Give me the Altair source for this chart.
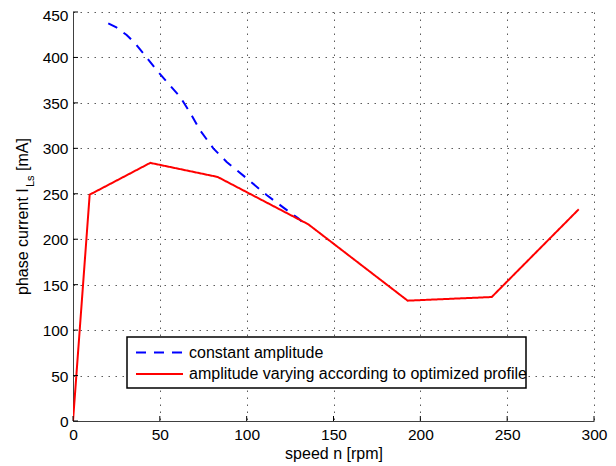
import altair as alt
import pandas as pd

# --- data ---
const_x = [20.3, 25.0, 30.9, 36.0, 40.5, 48.2, 55.0, 61.6, 67.5, 73.1, 80.8, 88.5, 100.0, 111.5, 121.0, 129.7, 132.0]
const_y = [437.5, 433.0, 424.7, 415.0, 404.5, 386.0, 371.0, 356.8, 339.0, 320.0, 300.0, 285.0, 267.0, 248.6, 235.0, 223.0, 219.0]

opt_x = [0.0, 9.6, 44.5, 83.3, 135.5, 192.7, 241.1, 291.2]
opt_y = [0.0, 249.0, 284.0, 268.5, 216.4, 132.4, 136.4, 232.9]

x_ticks = [0, 50, 100, 150, 200, 250, 300]
y_ticks = [0, 50, 100, 150, 200, 250, 300, 350, 400, 450]

series_names = ["constant amplitude", "amplitude varying according to optimized profile"]
series_colors = ["#0000ff", "#ff0000"]

W, H = 521, 409
FONT = "Liberation Sans"

rows = []
for i, (a, b) in enumerate(zip(const_x, const_y)):
    rows.append({"series": series_names[0], "x": a, "y": b, "o": i})
for i, (a, b) in enumerate(zip(opt_x, opt_y)):
    rows.append({"series": series_names[1], "x": a, "y": b, "o": i})
df = pd.DataFrame(rows)

xs = alt.Scale(domain=[0, 300], nice=False)
ys = alt.Scale(domain=[0, 450], nice=False)

lines = alt.Chart(df).mark_line(strokeWidth=2, clip=True).encode(
    x=alt.X("x:Q", scale=xs, axis=alt.Axis(values=x_ticks, title="speed n [rpm]", grid=True)),
    y=alt.Y("y:Q", scale=ys, axis=alt.Axis(
        values=y_ticks, title=None, grid=True,
        labelOffset=alt.condition("datum.value == 450", alt.value(3), alt.value(0.5)))),
    color=alt.Color("series:N", scale=alt.Scale(domain=series_names, range=series_colors), legend=None),
    strokeDash=alt.StrokeDash("series:N", scale=alt.Scale(domain=series_names, range=[[10, 8], [1, 0]]), legend=None),
    detail="series:N",
    order="o:Q",
)

one = pd.DataFrame({"a": [0]})

# inward ticks
xt = alt.Chart(pd.DataFrame({"v": x_ticks})).mark_rule(color="#000", strokeWidth=1).encode(
    x=alt.X("v:Q", scale=xs), y=alt.value(H), y2=alt.value(H - 5))
yt = alt.Chart(pd.DataFrame({"v": y_ticks})).mark_rule(color="#000", strokeWidth=1).encode(
    y=alt.Y("v:Q", scale=ys), x=alt.value(0), x2=alt.value(5))

# legend box
box = alt.Chart(one).mark_rect(fill="white", stroke="black", strokeWidth=1.5).encode(
    x=alt.value(54), x2=alt.value(453), y=alt.value(325), y2=alt.value(376))
leg1 = alt.Chart(one).mark_rule(color=series_colors[0], strokeWidth=2, strokeDash=[10, 8]).encode(
    x=alt.value(63), x2=alt.value(110), y=alt.value(340.5))
leg2 = alt.Chart(one).mark_rule(color=series_colors[1], strokeWidth=2).encode(
    x=alt.value(63), x2=alt.value(110), y=alt.value(362))
lt1 = alt.Chart(one).mark_text(align="left", baseline="middle", font=FONT, fontSize=16, color="#000").encode(
    x=alt.value(116), y=alt.value(340.5), text=alt.value(series_names[0]))
lt2 = alt.Chart(one).mark_text(align="left", baseline="middle", font=FONT, fontSize=16, color="#000").encode(
    x=alt.value(116), y=alt.value(362), text=alt.value(series_names[1]))

# y axis title with subscript
yt1 = alt.Chart(one).mark_text(align="left", baseline="alphabetic", angle=270, font=FONT, fontSize=16, color="#000").encode(
    x=alt.value(-45), y=alt.value(283), text=alt.value("phase current I"))
yt2 = alt.Chart(one).mark_text(align="left", baseline="alphabetic", angle=270, font=FONT, fontSize=11, color="#000").encode(
    x=alt.value(-39), y=alt.value(175), text=alt.value("Ls"))
yt3 = alt.Chart(one).mark_text(align="left", baseline="alphabetic", angle=270, font=FONT, fontSize=16, color="#000").encode(
    x=alt.value(-45), y=alt.value(159), text=alt.value("[mA]"))

chart = alt.layer(lines, xt, yt, box, leg1, leg2, lt1, lt2, yt1, yt2, yt3).properties(
    width=W, height=H,
    autosize=alt.AutoSizeParams(type="none"),
    padding={"left": 65, "top": 4, "right": 14, "bottom": 45},
).configure_view(stroke=None).configure_axis(
    labelFont=FONT, titleFont=FONT, labelFontSize=15.5, titleFontSize=16,
    labelColor="#000", titleColor="#000", titleFontWeight="normal",
    domainColor="#404040", domainWidth=1, ticks=False, labelFlush=False,
    gridColor="#333", gridDash=[1.5, 5.5], gridWidth=1, gridOpacity=0.8,
).configure_axisX(labelPadding=6, titlePadding=3).configure_axisY(labelPadding=5)

chart.save("out.html", embed_options={"renderer": "svg", "actions": False})
